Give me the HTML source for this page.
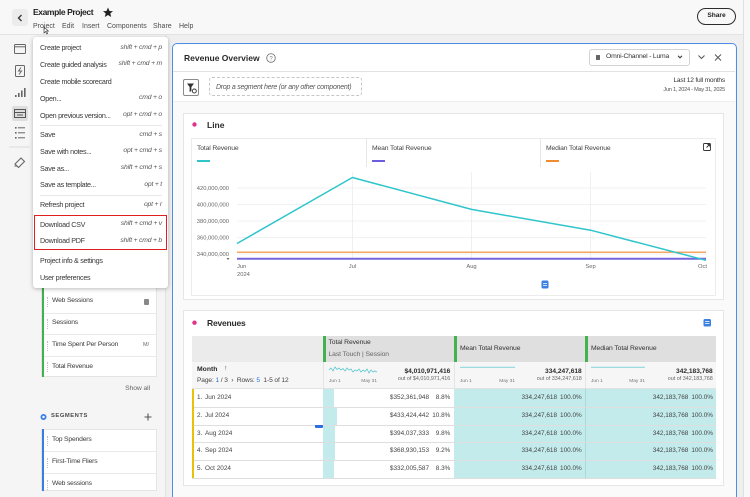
<!DOCTYPE html>
<html><head><meta charset="utf-8">
<style>
*{margin:0;padding:0;box-sizing:border-box}
html,body{width:750px;height:497px;overflow:hidden;background:#efefef;font-family:"Liberation Sans",sans-serif;color:#2c2c2c}
#w{position:relative;width:750px;height:497px;overflow:hidden;background:#efefef}
.a{position:absolute}
.t{position:absolute;white-space:nowrap;line-height:1}
.mi{position:absolute;left:40px;font-size:7.2px;letter-spacing:-0.3px;color:#383838;white-space:nowrap;line-height:1}
.sc{position:absolute;right:588px;font-size:6.8px;letter-spacing:-0.2px;color:#555;font-style:italic;white-space:nowrap;line-height:1}
.mb{position:absolute;top:23px;font-size:7px;color:#4d4d4d;line-height:1;white-space:nowrap}
.li{position:absolute;left:52px;font-size:6.8px;letter-spacing:-0.2px;color:#3a3a3a;line-height:1;white-space:nowrap}
.dt{position:absolute;left:47px;width:0;height:10px;border-left:1px dotted #bdbdbd}
.r{position:absolute;white-space:nowrap;line-height:1;font-size:6.4px;color:#444}
</style></head><body><div id="w">

<!-- header -->
<div class="a" style="left:0;top:0;width:750px;height:35px;background:#f8f8f8;border-bottom:1px solid #e3e3e3"></div>
<div class="a" style="left:12px;top:9px;width:16px;height:17px;background:#ececec;border-radius:3px"></div>
<svg class="a" style="left:0;top:0" width="750" height="40">
<polyline points="21.5,15 18.5,18 21.5,21" fill="none" stroke="#333" stroke-width="1.3"/>
<polygon points="108,7.5 109.5,11 113,11.2 110.3,13.4 111.2,17 108,15 104.8,17 105.7,13.4 103,11.2 106.5,11" fill="#222"/>
<path d="M44,27 l0,6 l1.5,-1.5 l1.2,2.5 l1,-0.5 l-1.2,-2.4 l2,0 z" fill="#fff" stroke="#333" stroke-width="0.6"/>
</svg>
<div class="t" style="left:33px;top:8.3px;font-size:8.5px;font-weight:bold;letter-spacing:-0.4px;color:#222">Example Project</div>
<div class="mb" style="left:33px">Project</div>
<div class="mb" style="left:62px">Edit</div>
<div class="mb" style="left:82px">Insert</div>
<div class="mb" style="left:107px">Components</div>
<div class="mb" style="left:153px">Share</div>
<div class="mb" style="left:179px">Help</div>
<div class="a" style="left:697px;top:8px;width:39px;height:17px;border:1.3px solid #2c2c2c;border-radius:9px;font-size:6.6px;font-weight:bold;text-align:center;line-height:14.5px;color:#222">Share</div>

<!-- left side -->
<div class="a" style="left:0;top:35px;width:166px;height:462px;background:#f5f5f5;border-right:1px solid #e2e2e2"></div>
<div class="a" style="left:743px;top:0;width:7px;height:497px;background:#f8f8f8;border-left:1px solid #e0e0e0"></div>

<!-- rail icons -->
<svg class="a" style="left:0;top:35px" width="33" height="140">
<g fill="none" stroke="#666" stroke-width="1">
<rect x="14.5" y="9.5" width="11" height="9" rx="1"/><line x1="14.5" y1="11.8" x2="25.5" y2="11.8"/>
<rect x="15.5" y="30.5" width="9" height="11" rx="1"/><polyline points="21,32.5 18.5,36 21.5,36 19,39.5"/>
</g>
<g fill="#666"><rect x="15" y="60" width="1.6" height="2"/><rect x="18" y="58" width="1.6" height="4"/><rect x="21" y="55.5" width="1.6" height="6.5"/><rect x="24" y="53" width="1.6" height="9"/></g>
<rect x="12" y="71" width="16" height="15" rx="2" fill="#dedede"/>
<g fill="none" stroke="#555" stroke-width="1"><rect x="14.5" y="74.5" width="11" height="8"/><line x1="14.5" y1="77.5" x2="25.5" y2="77.5"/><line x1="17" y1="80" x2="23" y2="80"/></g>
<g fill="#666"><rect x="15" y="92" width="1.6" height="1.6"/><rect x="15" y="97" width="1.6" height="1.6"/><rect x="15" y="102" width="1.6" height="1.6"/>
<rect x="18" y="92.3" width="7" height="1"/><rect x="18" y="97.3" width="7" height="1"/><rect x="18" y="102.3" width="7" height="1"/></g>
<rect x="9" y="111.5" width="21" height="1" fill="#dcdcdc"/>
<path d="M15,129 l6,-6 l3.5,3.5 l-6,6 z M17,131 l-2.5,0" fill="none" stroke="#666" stroke-width="1.1"/>
</svg>

<!-- components list -->
<div class="a" style="left:41px;top:286px;width:116px;height:91.3px;background:#fff;border:1px solid #e4e4e4"></div>
<div class="a" style="left:41.5px;top:286px;width:2.5px;height:91.3px;background:#3fb14e"></div>
<div class="a" style="left:44px;top:312.7px;width:113px;height:1px;background:#e9e9e9"></div>
<div class="a" style="left:44px;top:334.3px;width:113px;height:1px;background:#e9e9e9"></div>
<div class="a" style="left:44px;top:356px;width:113px;height:1px;background:#e9e9e9"></div>
<div class="dt" style="top:296.7px"></div><div class="dt" style="top:318.7px"></div><div class="dt" style="top:340.7px"></div><div class="dt" style="top:362.3px"></div>
<div class="li" style="top:298.3px">Web Sessions</div>
<div class="li" style="top:320.3px">Sessions</div>
<div class="li" style="top:342.3px">Time Spent Per Person</div>
<div class="li" style="top:363.9px">Total Revenue</div>
<div class="a" style="left:143.5px;top:298.5px;width:5px;height:6px;background:#888;border-radius:1px"></div>
<div class="t" style="left:143px;top:342.5px;font-size:5.5px;color:#666">M/</div>
<div class="t" style="right:600px;top:385.6px;font-size:6.8px;color:#666;letter-spacing:-0.1px">Show all</div>
<svg class="a" style="left:38px;top:410px" width="118" height="14">
<circle cx="5.5" cy="7" r="3" fill="#3c7fe0"/><circle cx="5.5" cy="7" r="1.2" fill="#fff"/>
<path d="M110,3.5 v7 M106.5,7 h7" stroke="#555" stroke-width="1.1"/>
</svg>
<div class="t" style="left:51px;top:414.1px;font-size:5.8px;font-weight:bold;letter-spacing:0.55px;color:#4a4a4a">SEGMENTS</div>
<div class="a" style="left:41px;top:429.3px;width:116px;height:62px;background:#fff;border:1px solid #e4e4e4"></div>
<div class="a" style="left:41.5px;top:429.3px;width:2.5px;height:62px;background:#3a7ee4"></div>
<div class="a" style="left:44px;top:451.3px;width:113px;height:1px;background:#e9e9e9"></div>
<div class="a" style="left:44px;top:473.3px;width:113px;height:1px;background:#e9e9e9"></div>
<div class="dt" style="top:435.7px"></div><div class="dt" style="top:457.7px"></div><div class="dt" style="top:479.7px"></div>
<div class="li" style="top:437.3px">Top Spenders</div>
<div class="li" style="top:459.3px">First-Time Fliers</div>
<div class="li" style="top:481.3px">Web sessions</div>

<!-- menu -->
<div class="a" style="left:33px;top:37px;width:135px;height:251px;background:#fff;border-radius:3px;box-shadow:0 1px 4px rgba(0,0,0,.28)"></div>
<div class="mi" style="top:44.4px">Create project</div><div class="sc" style="top:44.6px">shift + cmd + p</div>
<div class="mi" style="top:61.1px">Create guided analysis</div><div class="sc" style="top:61.3px">shift + cmd + m</div>
<div class="mi" style="top:77.7px">Create mobile scorecard</div>
<div class="mi" style="top:94.7px">Open...</div><div class="sc" style="top:94.9px">cmd + o</div>
<div class="mi" style="top:112.1px">Open previous version...</div><div class="sc" style="top:112.3px">opt + cmd + o</div>
<div class="a" style="left:40px;top:124.5px;width:122px;height:1px;background:#e8e8e8"></div>
<div class="mi" style="top:131.4px">Save</div><div class="sc" style="top:131.6px">cmd + s</div>
<div class="mi" style="top:148.1px">Save with notes...</div><div class="sc" style="top:148.3px">opt + cmd + s</div>
<div class="mi" style="top:164.7px">Save as...</div><div class="sc" style="top:164.9px">shift + cmd + s</div>
<div class="mi" style="top:181.4px">Save as template...</div><div class="sc" style="top:181.6px">opt + t</div>
<div class="a" style="left:40px;top:194.5px;width:122px;height:1px;background:#e8e8e8"></div>
<div class="mi" style="top:201.4px">Refresh project</div><div class="sc" style="top:201.6px">opt + r</div>
<div class="mi" style="top:220.7px">Download CSV</div><div class="sc" style="top:220.9px">shift + cmd + v</div>
<div class="mi" style="top:237.4px">Download PDF</div><div class="sc" style="top:237.6px">shift + cmd + b</div>
<div class="a" style="left:33.5px;top:215px;width:133px;height:35px;border:1.6px solid #e0201f"></div>
<div class="mi" style="top:257.1px">Project info &amp; settings</div>
<div class="mi" style="top:273.7px">User preferences</div>

<!-- main card -->
<div class="a" style="left:171.5px;top:43px;width:565px;height:458px;border:1.5px solid #4d8fe6;border-radius:5px;background:#fafafa"></div>
<div class="a" style="left:173px;top:44.5px;width:562px;height:27px;background:#fff;border-bottom:1px solid #e2e2e2;border-radius:4px 4px 0 0"></div>
<div class="a" style="left:173px;top:71.5px;width:562px;height:30px;background:#fff;border-bottom:1px solid #eeeeee"></div>
<div class="t" style="left:184px;top:53.7px;font-size:8.5px;font-weight:bold;color:#2a2a2a">Revenue Overview</div>
<svg class="a" style="left:265px;top:52px" width="12" height="12"><circle cx="6" cy="6" r="4.3" fill="none" stroke="#777" stroke-width="0.9"/><text x="6" y="8.3" font-size="6" text-anchor="middle" fill="#777" font-family="Liberation Sans">?</text></svg>
<div class="a" style="left:589px;top:49px;width:101px;height:17px;border:1px solid #d3d3d3;border-radius:3px;background:#fff"></div>
<div class="a" style="left:595.5px;top:54.5px;width:4px;height:5px;background:#666;border-radius:0.5px"></div>
<div class="t" style="left:606px;top:54px;font-size:6.8px;letter-spacing:-0.2px;color:#333">Omni-Channel - Luma</div>
<svg class="a" style="left:670px;top:50px" width="60" height="15">
<polyline points="8,5.8 10,7.8 12,5.8" fill="none" stroke="#444" stroke-width="1.1"/>
<polyline points="28.5,5.5 31.5,8.5 34.5,5.5" fill="none" stroke="#555" stroke-width="1"/>
<path d="M45,4.5 l6,6 M51,4.5 l-6,6" stroke="#555" stroke-width="1"/>
</svg>
<div class="a" style="left:183px;top:79px;width:16px;height:17px;border:1px solid #8a8a8a;border-radius:2px;background:#fff"></div>
<svg class="a" style="left:183px;top:79px" width="16" height="17"><path d="M4,4.5 h7 l-2.6,3.5 v4 l-1.8,1 v-5 z" fill="#333"/><circle cx="11.3" cy="12" r="2" fill="#fff" stroke="#333" stroke-width="0.9"/></svg>
<div class="a" style="left:209px;top:77px;width:153px;height:19px;border:1px dashed #c6c6c6;border-radius:3px"></div>
<div class="t" style="left:216px;top:83.5px;font-size:7px;font-style:italic;letter-spacing:-0.25px;color:#555">Drop a segment here (or any other component)</div>
<div class="t" style="right:25px;top:78.4px;font-size:6.6px;letter-spacing:-0.2px;color:#333">Last 12 full months</div>
<div class="t" style="right:25px;top:87.6px;font-size:5.6px;letter-spacing:-0.25px;color:#555">Jun 1, 2024 - May 31, 2025</div>

<!-- line panel -->
<div class="a" style="left:183px;top:113px;width:541px;height:187px;background:#fff;border:1px solid #e6e6e6"></div>
<div class="a" style="left:191px;top:138px;width:525px;height:158px;border:1px solid #ececec"></div>
<div class="a" style="left:366px;top:138px;width:1px;height:29px;background:#e6e6e6"></div>
<div class="a" style="left:540px;top:138px;width:1px;height:29px;background:#e6e6e6"></div>
<div class="t" style="left:207px;top:120.8px;font-size:8.5px;font-weight:bold;color:#2a2a2a">Line</div>
<div class="t" style="left:197px;top:146.3px;font-size:6.8px;letter-spacing:-0.15px;color:#444">Total Revenue</div>
<div class="t" style="left:372px;top:146.3px;font-size:6.8px;letter-spacing:-0.15px;color:#444">Mean Total Revenue</div>
<div class="t" style="left:546px;top:146.3px;font-size:6.8px;letter-spacing:-0.15px;color:#444">Median Total Revenue</div>
<div class="a" style="left:197px;top:159.5px;width:13px;height:2px;background:#2ec5cb"></div>
<div class="a" style="left:372px;top:159.5px;width:13px;height:2px;background:#6b5ce0"></div>
<div class="a" style="left:546px;top:159.5px;width:13px;height:2px;background:#f08b2f"></div>

<svg class="a" style="left:0;top:0" width="750" height="497" font-family="Liberation Sans">
<circle cx="194.5" cy="124.5" r="2.2" fill="#e0338a"/>
<g fill="none" stroke="#333" stroke-width="0.9"><rect x="703.5" y="143.5" width="7" height="7" rx="1"/><path d="M706.5,147.5 l3,-3 M707.5,144.5 h2 v2"/></g>
<g stroke="#ececec" stroke-width="0.8">
<line x1="237" y1="188" x2="706" y2="188"/><line x1="237" y1="204.5" x2="706" y2="204.5"/><line x1="237" y1="221" x2="706" y2="221"/><line x1="237" y1="237.5" x2="706" y2="237.5"/><line x1="237" y1="254" x2="706" y2="254"/>
<line x1="352.4" y1="172" x2="352.4" y2="259"/><line x1="471.5" y1="172" x2="471.5" y2="259"/><line x1="590.6" y1="172" x2="590.6" y2="259"/>
</g>
<g font-size="5.8" fill="#666" text-anchor="end">
<text x="229" y="190">420,000,000</text><text x="229" y="206.5">400,000,000</text><text x="229" y="223">380,000,000</text><text x="229" y="239.5">360,000,000</text><text x="229" y="256">340,000,000</text>
</g>
<polygon points="226.5,258 229.5,258 228,260" fill="#666"/>
<line x1="237" y1="252.2" x2="706" y2="252.2" stroke="#f08b2f" stroke-width="1.2"/>
<line x1="237" y1="258.7" x2="706" y2="258.7" stroke="#7466dd" stroke-width="2"/>
<polyline points="237,243.5 352.4,177.5 471.5,209.4 590.6,230.2 706,260.3" fill="none" stroke="#2ec5cb" stroke-width="1.5" stroke-linejoin="round"/>
<g font-size="5.8" fill="#666">
<text x="237" y="268">Jun</text><text x="237" y="276">2024</text>
<text x="352.4" y="268" text-anchor="middle">Jul</text>
<text x="471.5" y="268" text-anchor="middle">Aug</text>
<text x="590.6" y="268" text-anchor="middle">Sep</text>
<text x="707" y="268" text-anchor="end">Oct</text>
</g>
<rect x="541.5" y="280.5" width="7" height="8" rx="1.5" fill="#3b7fe3"/><path d="M543,283.5 h4 M543,285.5 h4" stroke="#fff" stroke-width="0.7"/>
</svg>

<!-- revenues panel -->
<div class="a" style="left:183px;top:310px;width:541px;height:175.5px;background:#fff;border:1px solid #e6e6e6"></div>
<div class="t" style="left:207px;top:318.5px;font-size:8.5px;font-weight:bold;letter-spacing:-0.2px;color:#2a2a2a">Revenues</div>

<div class="a" style="left:192px;top:336px;width:131px;height:26px;background:#ebebeb"></div>
<div class="a" style="left:323px;top:336px;width:393px;height:26px;background:#dfdfdf"></div>
<div class="a" style="left:323px;top:336px;width:3px;height:26px;background:#43b34f"></div>
<div class="a" style="left:454px;top:336px;width:3px;height:26px;background:#43b34f"></div>
<div class="a" style="left:585px;top:336px;width:3px;height:26px;background:#43b34f"></div>
<div class="a" style="left:192px;top:362px;width:524px;height:27.3px;background:#f6f6f6;border-bottom:1px solid #e2e2e2"></div>
<div class="a" style="left:323px;top:362px;width:1px;height:27px;background:#e4e4e4"></div>
<div class="a" style="left:454px;top:362px;width:1px;height:27px;background:#e4e4e4"></div>
<div class="a" style="left:585px;top:362px;width:1px;height:27px;background:#e4e4e4"></div>

<div class="t" style="left:328.5px;top:340.3px;font-size:6.8px;letter-spacing:-0.1px;color:#333">Total Revenue</div>
<div class="t" style="left:328.5px;top:352.3px;font-size:6.8px;letter-spacing:-0.1px;color:#666">Last Touch | Session</div>
<div class="t" style="left:460px;top:345.9px;font-size:6.8px;letter-spacing:-0.1px;color:#333">Mean Total Revenue</div>
<div class="t" style="left:591px;top:345.9px;font-size:6.8px;letter-spacing:-0.1px;color:#333">Median Total Revenue</div>
<div class="t" style="left:197px;top:366.6px;font-size:6.8px;font-weight:bold;color:#2a2a2a">Month</div>
<div class="t" style="left:224px;top:366.2px;font-size:6.8px;color:#555">↑</div>
<div class="t" style="left:197px;top:378px;font-size:6.6px;letter-spacing:-0.1px;color:#444">Page: <span style="color:#2a72d6">1</span> / 3 &nbsp;›&nbsp; Rows: <span style="color:#2a72d6">5</span>&nbsp; 1-5 of 12</div>

<svg class="a" style="left:0;top:0" width="750" height="497">
<circle cx="194.5" cy="322.7" r="2.2" fill="#e0338a"/>
<rect x="703.5" y="319" width="7.5" height="7.5" rx="1.5" fill="#3b7fe3"/><path d="M705,321.5 h4.5 M705,323.5 h4.5" stroke="#fff" stroke-width="0.7"/>
<polyline points="329,370 331,368 333,371 335,367 337,369.5 339,368 341,370 343,368.5 345,371 347,368 349,370 351,369 353,372 355,370 357,371 359,369 361,372 363,370 365,371.5 367,369 369,373 371,370 373,372 375,371 377,372" fill="none" stroke="#5cc8d0" stroke-width="0.8"/>
<line x1="460" y1="367.3" x2="515" y2="367.3" stroke="#8fd7dc" stroke-width="1.2"/>
<line x1="591" y1="367.3" x2="645" y2="367.3" stroke="#8fd7dc" stroke-width="1.2"/>
</svg>
<div class="t" style="left:329px;top:379.7px;font-size:4.8px;color:#777">Jun 1</div>
<div class="t" style="right:373px;top:379.7px;font-size:4.8px;color:#777">May 31</div>
<div class="t" style="left:460px;top:379.7px;font-size:4.8px;color:#777">Jun 1</div>
<div class="t" style="right:235px;top:379.7px;font-size:4.8px;color:#777">May 31</div>
<div class="t" style="left:591px;top:379.7px;font-size:4.8px;color:#777">Jun 1</div>
<div class="t" style="right:105px;top:379.7px;font-size:4.8px;color:#777">May 31</div>
<div class="t" style="right:299.7px;top:368.7px;font-size:6.6px;font-weight:bold;color:#2a2a2a">$4,010,971,416</div>
<div class="t" style="right:299.7px;top:377.3px;font-size:5.4px;color:#666">out of $4,010,971,416</div>
<div class="t" style="right:168.3px;top:368.7px;font-size:6.6px;font-weight:bold;color:#2a2a2a">334,247,618</div>
<div class="t" style="right:168.3px;top:377.3px;font-size:5.4px;color:#666">out of 334,247,618</div>
<div class="t" style="right:37.3px;top:368.7px;font-size:6.6px;font-weight:bold;color:#2a2a2a">342,183,768</div>
<div class="t" style="right:37.3px;top:377.3px;font-size:5.4px;color:#666">out of 342,183,768</div>

<!-- data rows -->
<div class="a" style="left:454px;top:389.3px;width:262px;height:88.7px;background:#c4ebec"></div>
<div class="a" style="left:585px;top:389.3px;width:1px;height:88.7px;background:#acd9da"></div>
<div class="a" style="left:323px;top:389.3px;width:1px;height:88.7px;background:#e4e4e4"></div>
<div class="a" style="left:323px;top:389.3px;width:11.2px;height:17.7px;background:#c4ebec"></div>
<div class="a" style="left:323px;top:407.3px;width:13.7px;height:17.7px;background:#c4ebec"></div>
<div class="a" style="left:323px;top:425px;width:12.4px;height:17.7px;background:#c4ebec"></div>
<div class="a" style="left:323px;top:442.7px;width:11.7px;height:17.7px;background:#c4ebec"></div>
<div class="a" style="left:323px;top:460.3px;width:10.5px;height:17.7px;background:#c4ebec"></div>
<div class="a" style="left:192px;top:406.8px;width:524px;height:1px;background:#dedede"></div>
<div class="a" style="left:192px;top:424.5px;width:524px;height:1px;background:#dedede"></div>
<div class="a" style="left:192px;top:442.2px;width:524px;height:1px;background:#dedede"></div>
<div class="a" style="left:192px;top:459.8px;width:524px;height:1px;background:#dedede"></div>
<div class="a" style="left:192px;top:477.5px;width:524px;height:1px;background:#dedede"></div>
<div class="a" style="left:191.7px;top:389.3px;width:2.5px;height:88.7px;background:#e8c10b"></div>
<div class="a" style="left:314.5px;top:425.3px;width:8px;height:3px;background:#2d6fe0;border-radius:0 0 1px 1px"></div>

<div class="r" style="left:197px;top:395px">1.</div><div class="r" style="left:205px;top:395px">Jun 2024</div>
<div class="r" style="left:197px;top:412.9px">2.</div><div class="r" style="left:205px;top:412.9px">Jul 2024</div>
<div class="r" style="left:197px;top:430.6px">3.</div><div class="r" style="left:205px;top:430.6px">Aug 2024</div>
<div class="r" style="left:197px;top:448.2px">4.</div><div class="r" style="left:205px;top:448.2px">Sep 2024</div>
<div class="r" style="left:197px;top:465.9px">5.</div><div class="r" style="left:205px;top:465.9px">Oct 2024</div>

<div class="r" style="right:321px;top:395px">$352,361,948</div><div class="r" style="right:299.7px;top:395px">8.8%</div>
<div class="r" style="right:321px;top:412.9px">$433,424,442</div><div class="r" style="right:299.7px;top:412.9px">10.8%</div>
<div class="r" style="right:321px;top:430.6px">$394,037,333</div><div class="r" style="right:299.7px;top:430.6px">9.8%</div>
<div class="r" style="right:321px;top:448.2px">$368,930,153</div><div class="r" style="right:299.7px;top:448.2px">9.2%</div>
<div class="r" style="right:321px;top:465.9px">$332,005,587</div><div class="r" style="right:299.7px;top:465.9px">8.3%</div>

<div class="r" style="right:193px;top:395px">334,247,618</div><div class="r" style="right:168.3px;top:395px">100.0%</div>
<div class="r" style="right:193px;top:412.9px">334,247,618</div><div class="r" style="right:168.3px;top:412.9px">100.0%</div>
<div class="r" style="right:193px;top:430.6px">334,247,618</div><div class="r" style="right:168.3px;top:430.6px">100.0%</div>
<div class="r" style="right:193px;top:448.2px">334,247,618</div><div class="r" style="right:168.3px;top:448.2px">100.0%</div>
<div class="r" style="right:193px;top:465.9px">334,247,618</div><div class="r" style="right:168.3px;top:465.9px">100.0%</div>

<div class="r" style="right:61.7px;top:395px">342,183,768</div><div class="r" style="right:37px;top:395px">100.0%</div>
<div class="r" style="right:61.7px;top:412.9px">342,183,768</div><div class="r" style="right:37px;top:412.9px">100.0%</div>
<div class="r" style="right:61.7px;top:430.6px">342,183,768</div><div class="r" style="right:37px;top:430.6px">100.0%</div>
<div class="r" style="right:61.7px;top:448.2px">342,183,768</div><div class="r" style="right:37px;top:448.2px">100.0%</div>
<div class="r" style="right:61.7px;top:465.9px">342,183,768</div><div class="r" style="right:37px;top:465.9px">100.0%</div>

</div></body></html>
